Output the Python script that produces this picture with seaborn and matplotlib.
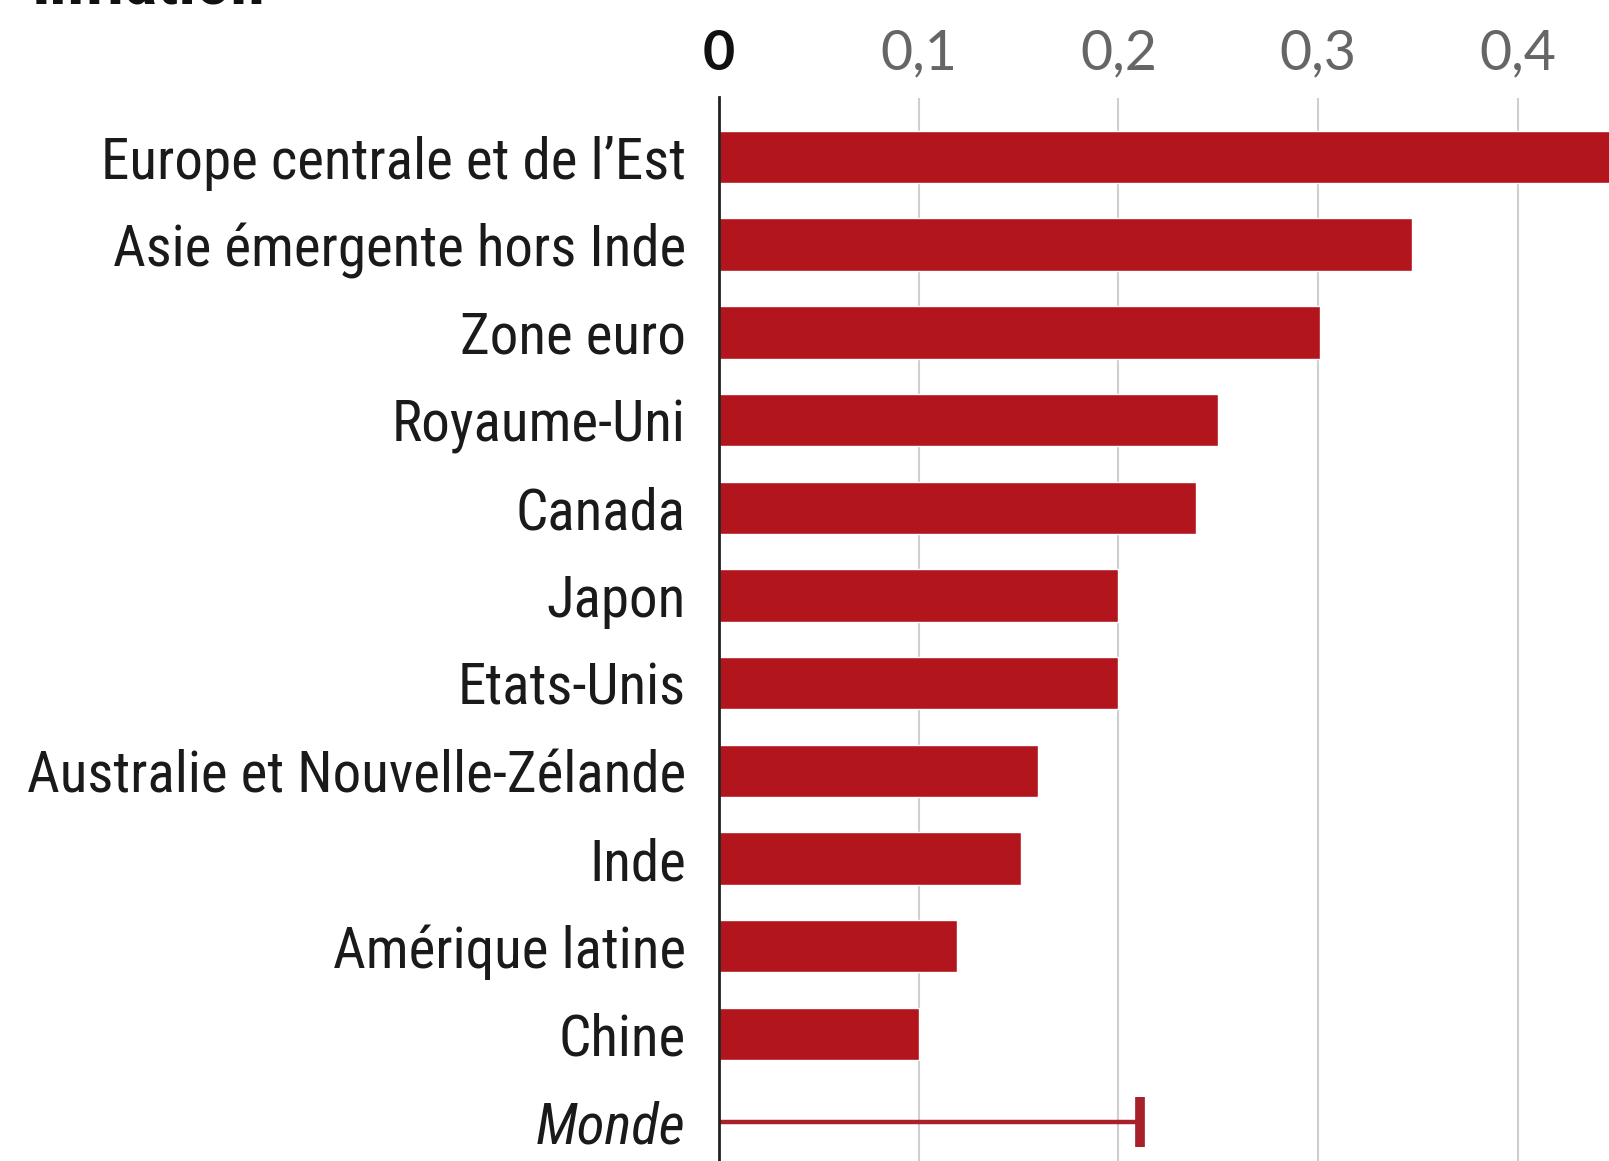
import matplotlib
matplotlib.use("Agg")
import matplotlib.pyplot as plt
import seaborn as sns
import pandas as pd
from matplotlib import font_manager as fm

# Valeurs
regions = ["Europe centrale et de l\u2019Est", "Asie émergente hors Inde", "Zone euro",
           "Royaume-Uni", "Canada", "Japon", "Etats-Unis", "Australie et Nouvelle-Zélande",
           "Inde", "Amérique latine", "Chine"]
valeurs = [0.50, 0.347, 0.301, 0.250, 0.239, 0.200, 0.200, 0.160, 0.151, 0.119, 0.100]
monde_label = "Monde"
monde_valeur = 0.211
ticks = [0, 0.1, 0.2, 0.3, 0.4]
tick_labels = ["0", "0,1", "0,2", "0,3", "0,4"]
titre = "Inflation"

ROUGE = "#b3151c"
W, H = 1609, 1161

sns.set_theme(style="white")


def pick_font(names, default="DejaVu Sans"):
    """Return the first installed family among names."""
    for name in names:
        try:
            fm.findfont(fm.FontProperties(family=name), fallback_to_default=False)
            return name
        except Exception:
            continue
    return default


label_font = pick_font(["Roboto Condensed", "Liberation Sans Narrow", "Liberation Sans"])
tick_font = pick_font(["Lato", "Open Sans"])
plt.rcParams["font.family"] = [label_font, "DejaVu Sans"]

df = pd.DataFrame({"region": regions, "valeur": valeurs})
ordre = regions + [monde_label]

fig = plt.figure(figsize=(W / 100, H / 100), dpi=100)
ax = fig.add_axes([719 / W, 0, 1 - 719 / W, 1 - 97.5 / H])

sns.barplot(data=df, x="valeur", y="region", order=ordre, color=ROUGE,
            saturation=1, width=0.6, ax=ax, zorder=2)

# Monde : simple trait avec une barre verticale en bout
i_monde = ordre.index(monde_label)
ax.hlines(i_monde, 0, monde_valeur, color="#a82028", lw=3.2, zorder=3)
ax.plot([monde_valeur], [i_monde], marker="|", ms=36, mew=7, color="#a82028", zorder=3)

ax.set_xlim(0, 0.4457)
ax.set_ylim(11.45, -0.68)
ax.set_xlabel("")
ax.set_ylabel("")

ax.xaxis.tick_top()
ax.set_xticks(ticks)
ax.set_xticklabels(tick_labels, family=tick_font, fontsize=40, color="#666666")
ax.get_xticklabels()[0].set_color("#111111")
ax.get_xticklabels()[0].set_fontweight("bold")
ax.tick_params(axis="x", length=0, pad=13)
ax.tick_params(axis="y", length=0, pad=24, labelsize=41, labelcolor="#1a1a1a")
for lab in ax.get_yticklabels():
    if lab.get_text() == monde_label:
        lab.set_style("italic")

ax.grid(axis="x", color="#cfcfcf", lw=1.5, zorder=0)
ax.grid(axis="y", visible=False)
ax.set_axisbelow(True)
for side in ["top", "right", "bottom"]:
    ax.spines[side].set_visible(False)
ax.spines["left"].set_color("#222222")
ax.spines["left"].set_linewidth(2)
ax.spines["left"].set_zorder(4)

# titre coupé en haut de l'image
fig.text(32 / W, 1 - 4 / H, titre, fontsize=50, fontweight="bold",
         color="#111111", va="baseline", ha="left")

fig.savefig("out.png", dpi=100)
